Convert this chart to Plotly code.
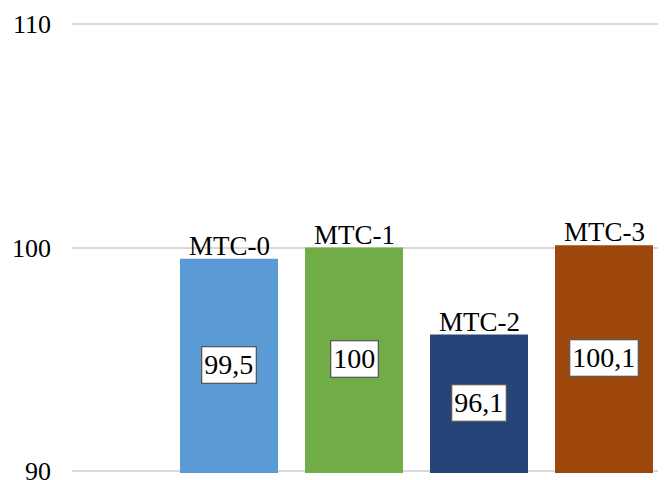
import plotly.graph_objects as go

categories = ["MTC-0", "MTC-1", "MTC-2", "MTC-3"]
values = [99.5, 100, 96.1, 100.1]
value_labels = ["99,5", "100", "96,1", "100,1"]
colors = ["#5B9BD5", "#70AD47", "#264478", "#9E480E"]
y_min, y_max = 90, 110
y_ticks = [90, 100, 110]

x_pos = list(range(len(categories)))

fig = go.Figure()
fig.add_trace(go.Bar(
    x=x_pos, y=values, marker=dict(color=colors, line=dict(width=0)),
    width=0.784, showlegend=False, hoverinfo="skip"
))

font_family = "Liberation Serif"
annotations = []
for xi, cat, v, lab in zip(x_pos, categories, values, value_labels):
    annotations.append(dict(
        x=xi, y=v, text=cat, showarrow=False, yanchor="bottom", yshift=-4,
        font=dict(family=font_family, size=27, color="black")
    ))
    annotations.append(dict(
        x=xi, y=(y_min + v) / 2, text=lab, showarrow=False,
        font=dict(family=font_family, size=28, color="black"),
        bgcolor="white", bordercolor="#595959", borderwidth=1.3, borderpad=2
    ))

fig.update_layout(
    width=666, height=480,
    margin=dict(l=72, r=8, t=22, b=7),
    paper_bgcolor="white", plot_bgcolor="white",
    annotations=annotations,
    xaxis=dict(range=[-1.256, 3.432], showgrid=False, showticklabels=False,
               zeroline=False, showline=False, fixedrange=True),
    yaxis=dict(range=[y_min - 0.1, y_max + 0.1], tickvals=y_ticks,
               showgrid=True, gridcolor="#D9D9D9", gridwidth=1.5,
               zeroline=False, showline=False, ticks="", automargin=False,
               ticklabelstandoff=20, ticklabeloverflow="allow",
               tickfont=dict(family=font_family, size=26, color="black")),
)

fig.write_html("out.html")
